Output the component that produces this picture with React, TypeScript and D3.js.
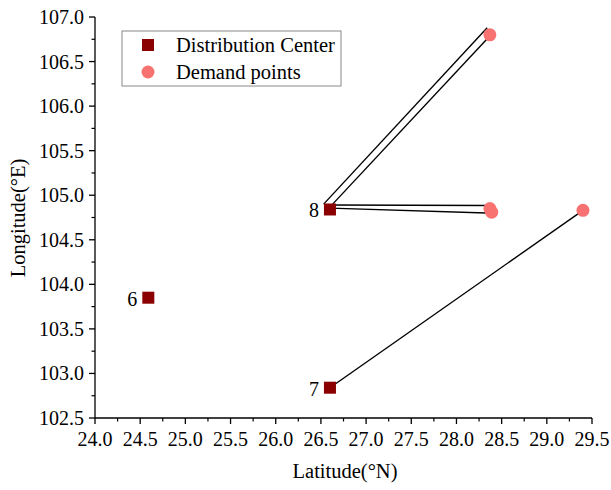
import React from "react";
import * as d3 from "d3";

const centers = [
  { id: "6", x: 24.59, y: 103.85 },
  { id: "7", x: 26.6, y: 102.84 },
  { id: "8", x: 26.6, y: 104.84 },
];
const demands = [
  { x: 28.37, y: 106.8 },
  { x: 28.37, y: 104.85 },
  { x: 28.39, y: 104.81 },
  { x: 29.4, y: 104.83 },
];
// route segments [x1, y1, x2, y2] in data units
const routes = [
  [26.53, 104.9, 28.34, 106.88],
  [26.63, 104.9, 28.4, 106.82],
  [26.6, 104.89, 28.36, 104.885],
  [26.6, 104.855, 28.33, 104.8],
  [26.6, 102.84, 29.4, 104.83],
];
const xTicks = [24.0, 24.5, 25.0, 25.5, 26.0, 26.5, 27.0, 27.5, 28.0, 28.5, 29.0, 29.5];
const yTicks = [102.5, 103.0, 103.5, 104.0, 104.5, 105.0, 105.5, 106.0, 106.5, 107.0];
const legendItems = ["Distribution Center", "Demand points"];

const W = 611, H = 490;
const font = "Liberation Serif, DejaVu Serif, serif";
const sqColor = "#8B0000";
const cColor = "#F87272";

export default function App() {
  const x = d3.scaleLinear().domain([24, 29.5]).range([95, 592]);
  const y = d3.scaleLinear().domain([102.5, 107]).range([418, 17]);
  const xMinor = xTicks.slice(0, -1).map((t) => t + 0.25);
  const yMinor = yTicks.slice(0, -1).map((t) => t + 0.25);
  const sq = 12;
  const ts = { fontFamily: font };
  return (
    <svg width={W} height={H} style={{ position: "absolute", left: 0, top: 0, background: "#fff", fontFamily: font }}>
      {routes.map((r, i) => (
        <line key={"r" + i} x1={x(r[0])} y1={y(r[1])} x2={x(r[2])} y2={y(r[3])} stroke="#000" strokeWidth={1.4} />
      ))}
      {demands.map((d, i) => (
        <circle key={"d" + i} cx={x(d.x)} cy={y(d.y)} r={6.5} fill={cColor} />
      ))}
      {centers.map((c) => (
        <g key={c.id}>
          <rect x={x(c.x) - sq / 2} y={y(c.y) - sq / 2} width={sq} height={sq} fill={sqColor} />
          <text style={ts} x={x(c.x) - sq / 2 - 5} y={y(c.y) + 8} fontSize={20} textAnchor="end" fill="#000">{c.id}</text>
        </g>
      ))}
      <line x1={95} y1={418} x2={592} y2={418} stroke="#000" strokeWidth={1.3} />
      <line x1={95} y1={418} x2={95} y2={17} stroke="#000" strokeWidth={1.3} />
      {xTicks.map((t) => (
        <g key={"xt" + t}>
          <line x1={x(t)} x2={x(t)} y1={418} y2={424} stroke="#000" strokeWidth={1.3} />
          <text style={ts} x={x(t)} y={446} fontSize={20} textAnchor="middle" fill="#000">{t.toFixed(1)}</text>
        </g>
      ))}
      {xMinor.map((t) => (
        <line key={"xm" + t} x1={x(t)} x2={x(t)} y1={418} y2={421.5} stroke="#000" strokeWidth={1.2} />
      ))}
      {yTicks.map((t) => (
        <g key={"yt" + t}>
          <line x1={89} x2={95} y1={y(t)} y2={y(t)} stroke="#000" strokeWidth={1.3} />
          <text style={ts} x={84} y={y(t) + 7} fontSize={20} textAnchor="end" fill="#000">{t.toFixed(1)}</text>
        </g>
      ))}
      {yMinor.map((t) => (
        <line key={"ym" + t} x1={91.5} x2={95} y1={y(t)} y2={y(t)} stroke="#000" strokeWidth={1.2} />
      ))}
      <text style={ts} x={345} y={478} fontSize={20.5} textAnchor="middle" fill="#000">Latitude(°N)</text>
      <text style={ts} transform={`translate(25, 218) rotate(-90)`} fontSize={20.5} textAnchor="middle" fill="#000">Longitude(°E)</text>
      <rect x={122} y={31} width={219} height={55} fill="#fff" stroke="#888" strokeWidth={1} />
      <rect x={148 - 6} y={45 - 6} width={12} height={12} fill={sqColor} />
      <circle cx={148} cy={72} r={6.5} fill={cColor} />
      <text style={ts} x={176} y={52} fontSize={20.5} fill="#000">{legendItems[0]}</text>
      <text style={ts} x={176} y={79} fontSize={20.5} fill="#000">{legendItems[1]}</text>
    </svg>
  );
}
